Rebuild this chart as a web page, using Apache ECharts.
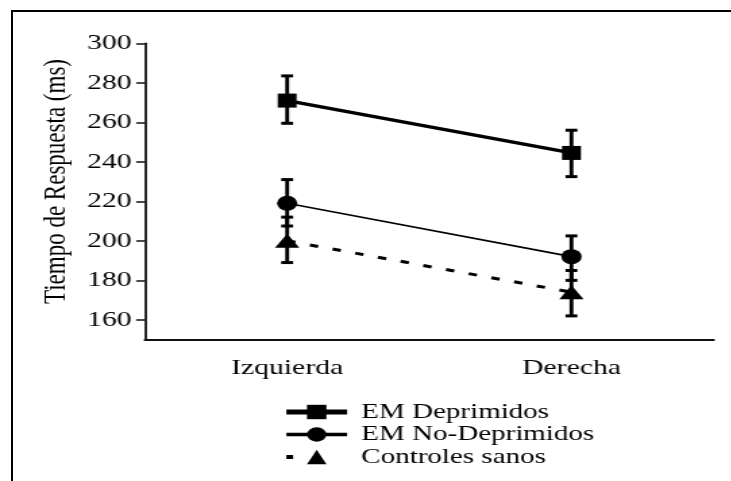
<!DOCTYPE html>
<html>
<head>
<meta charset="utf-8">
<script src="https://cdn.jsdelivr.net/npm/echarts@6/dist/echarts.min.js"></script>
<style>
html,body{margin:0;padding:0;background:#fff;overflow:hidden;width:731px;height:481px;}
#frame{position:absolute;left:11px;top:10px;width:725px;height:480px;border-top:2px solid #000;border-left:2px solid #000;box-sizing:border-box;}
#chart{position:absolute;left:0;top:0;width:541.5px;height:481px;transform:scaleX(1.35);transform-origin:0 0;}
</style>
</head>
<body>
<div id="frame"></div>
<div id="chart"></div>
<script>
// ---- data ----
const categories = ['Izquierda', 'Derecha'];
const seriesNames = ['EM Deprimidos', 'EM No-Deprimidos', 'Controles sanos'];
const deprimidos = [271, 244.5];
const deprimidosLow = [259.5, 232.5];
const deprimidosHigh = [283.5, 256];
const noDeprimidos = [219, 192];
const noDeprimidosLow = [207.5, 180];
const noDeprimidosHigh = [231, 202.5];
const controles = [200, 174];
const controlesLow = [189, 162];
const controlesHigh = [212, 185];
const yAxisName = 'Tiempo de Respuesta (ms)';

const FONT = 'Liberation Serif';

function errData(low, high) {
  return categories.map((c, i) => [i, low[i], high[i]]);
}
function errRender(params, api) {
  const x = api.value(0);
  const pLo = api.coord([x, api.value(1)]);
  const pHi = api.coord([x, api.value(2)]);
  const hw = 4.4;
  const style = { stroke: '#000', lineWidth: 3 };
  return {
    type: 'group',
    children: [
      { type: 'line', shape: { x1: pLo[0], y1: pLo[1], x2: pHi[0], y2: pHi[1] }, style: { stroke: '#000', lineWidth: 2.9 } },
      { type: 'line', shape: { x1: pLo[0] - hw, y1: pLo[1], x2: pLo[0] + hw, y2: pLo[1] }, style },
      { type: 'line', shape: { x1: pHi[0] - hw, y1: pHi[1], x2: pHi[0] + hw, y2: pHi[1] }, style }
    ]
  };
}
function errSeries(low, high) {
  return {
    type: 'custom',
    xAxisIndex: 0, yAxisIndex: 0,
    renderItem: errRender,
    data: errData(low, high),
    encode: { x: 0, y: [1, 2] },
    z: 1,
    silent: true
  };
}

const chart = echarts.init(document.getElementById('chart'), null, { renderer: 'canvas' });
chart.setOption({
  animation: false,
  backgroundColor: 'transparent',
  grid: [
    { left: 107.4, right: 13.4, top: 43.3, bottom: 141.4 },
    { left: 107.4, right: 13.4, top: 43.3, bottom: 161.2 }
  ],
  xAxis: [
    {
      type: 'category', gridIndex: 0, data: categories,
      axisLine: { lineStyle: { color: '#111', width: 2 } },
      axisTick: { show: false },
      axisLabel: { fontFamily: FONT, fontSize: 22, color: '#000', margin: 18 }
    },
    { type: 'category', gridIndex: 1, data: categories, show: false }
  ],
  yAxis: [
    {
      type: 'value', gridIndex: 0, min: 150, max: 300,
      axisLine: { show: true, lineStyle: { color: '#111', width: 1.8 } },
      axisTick: { show: false }, axisLabel: { show: false }, splitLine: { show: false }
    },
    {
      type: 'value', gridIndex: 1, min: 160, max: 300, interval: 20,
      axisLine: { show: false },
      axisTick: { show: true, length: 6.5, lineStyle: { color: '#111', width: 1.5 } },
      axisLabel: { fontFamily: FONT, fontSize: 22, color: '#000', margin: 10 },
      splitLine: { show: false },
      name: yAxisName, nameLocation: 'middle', nameGap: 50.5,
      nameTextStyle: { fontFamily: FONT, fontSize: 23, color: '#000' }
    }
  ],
  legend: {
    orient: 'vertical', left: 209.6, top: 394, padding: 0,
    itemWidth: 45, itemHeight: 18, itemGap: -13.5,
    selectedMode: false,
    data: [
      { name: seriesNames[0], lineStyle: { width: 5 } },
      { name: seriesNames[1], lineStyle: { width: 3.5 } },
      { name: seriesNames[2], lineStyle: { width: 4, type: [5, 60] } }
    ],
    textStyle: { fontFamily: FONT, fontSize: 21.5, color: '#000', lineHeight: 22, padding: [0, 0, 14, 5.5] }
  },
  series: [
    errSeries(deprimidosLow, deprimidosHigh),
    errSeries(noDeprimidosLow, noDeprimidosHigh),
    errSeries(controlesLow, controlesHigh),
    {
      name: seriesNames[0], type: 'line', data: deprimidos,
      symbol: 'rect', symbolSize: 14,
      color: '#000', itemStyle: { color: '#000' },
      lineStyle: { color: '#000', width: 3.3 }, z: 3
    },
    {
      name: seriesNames[1], type: 'line', data: noDeprimidos,
      symbol: 'circle', symbolSize: 15,
      color: '#000', itemStyle: { color: '#000' },
      lineStyle: { color: '#000', width: 1.6 }, z: 3
    },
    {
      name: seriesNames[2], type: 'line', data: controles,
      symbol: 'triangle', symbolSize: [18, 14],
      color: '#000', itemStyle: { color: '#000' },
      lineStyle: { color: '#000', width: 3, type: [6.3, 11] }, z: 3
    }
  ]
});
</script>
</body>
</html>
